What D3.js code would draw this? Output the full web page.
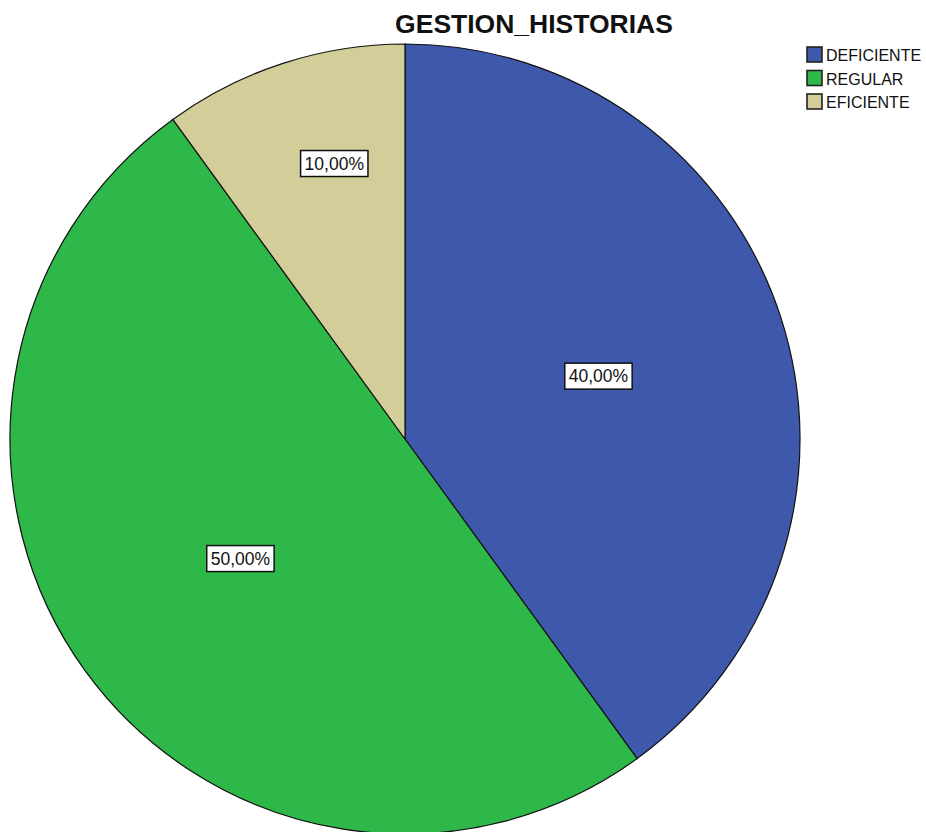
<!DOCTYPE html>
<html><head><meta charset="utf-8">
<script src="https://cdn.jsdelivr.net/npm/d3@7"></script>
<style>html,body{margin:0;padding:0;background:#fff;overflow:hidden}</style>
</head><body>
<svg id="chart" width="926" height="832"></svg>
<script>
const title = "GESTION_HISTORIAS";
const categories = ["DEFICIENTE", "REGULAR", "EFICIENTE"];
const values = [40, 50, 10];
const colors = ["#3E58AC", "#2EB84A", "#D3CE99"];

const W = 926, H = 832;
const svg = d3.select("#chart");
const cx = 405, cy = 439, R = 395;
const font = "'Liberation Sans', Arial, sans-serif";

svg.append("text").attr("x", 534).attr("y", 33).attr("text-anchor", "middle")
  .attr("font-family", font).attr("font-weight", "bold").attr("font-size", 26.5)
  .attr("fill", "#111").text(title);

const color = d3.scaleOrdinal().domain(categories).range(colors);
const pie = d3.pie().sort(null).value(d => d.v);
const data = categories.map((c, i) => ({c, v: values[i]}));
const arcs = pie(data);
const arc = d3.arc().innerRadius(0).outerRadius(R);
const total = d3.sum(values);

const g = svg.append("g").attr("transform", `translate(${cx},${cy})`);
g.selectAll("path").data(arcs).enter().append("path")
  .attr("d", arc).attr("fill", d => color(d.data.c))
  .attr("stroke", "#111").attr("stroke-width", 1.2);

const fmt = v => (v / total * 100).toFixed(2).replace(".", ",") + "%";
arcs.forEach(d => {
  const span = d.endAngle - d.startAngle;
  const narrow = span < Math.PI / 3;
  const lr = narrow ? R * 0.72 : R * 0.515;
  const a = narrow ? d.startAngle + span * 0.6 : (d.startAngle + d.endAngle) / 2;
  const x = Math.sin(a) * lr, y = -Math.cos(a) * lr;
  const lg = g.append("g").attr("transform", `translate(${x},${y})`);
  const t = lg.append("text").attr("text-anchor", "middle").attr("dy", "0.36em")
    .attr("font-family", font).attr("font-size", 17.5).attr("fill", "#111")
    .text(fmt(d.data.v));
  const bb = t.node().getBBox();
  lg.insert("rect", "text").attr("x", bb.x - 4).attr("y", -13)
    .attr("width", bb.width + 8).attr("height", 26)
    .attr("fill", "#fff").attr("stroke", "#111").attr("stroke-width", 1.5);
});

const leg = svg.append("g").attr("transform", "translate(807,47)");
categories.forEach((c, i) => {
  const row = leg.append("g").attr("transform", `translate(0,${i * 23.5})`);
  row.append("rect").attr("x", 0).attr("y", 0).attr("width", 15).attr("height", 15)
    .attr("fill", color(c)).attr("stroke", "#222").attr("stroke-width", 1.6);
  row.append("text").attr("x", 19).attr("y", 14)
    .attr("font-family", font).attr("font-size", 16).attr("fill", "#111").text(c);
});
</script>
</body></html>
